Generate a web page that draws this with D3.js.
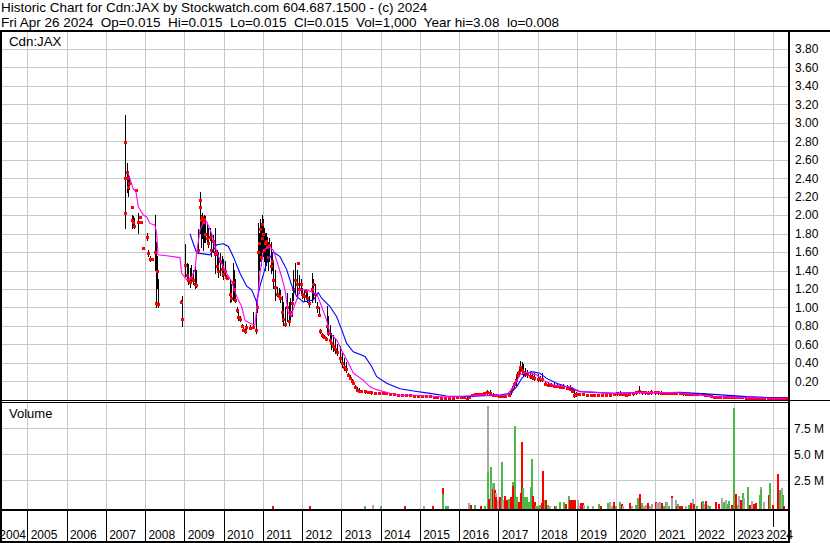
<!DOCTYPE html>
<html><head><meta charset="utf-8">
<script src="https://cdn.jsdelivr.net/npm/d3@7"></script>
<style>
body{margin:0;background:#fff}
svg{display:block}
text{font-family:"Liberation Sans",Arial,sans-serif;fill:#000}
</style></head>
<body><svg id="c" width="830" height="543"></svg>
<script>
// ---------------- DATA ----------------
const headerLines = [
  "Historic Chart for Cdn:JAX by Stockwatch.com 604.687.1500 - (c) 2024",
  "Fri Apr 26 2024  Op=0.015  Hi=0.015  Lo=0.015  Cl=0.015  Vol=1,000  Year hi=3.08  lo=0.008"
];
const symbol = "Cdn:JAX";
const volumeTitle = "Volume";
const yearLabels = d3.range(2004, 2025);
const priceTicks = [0.2,0.4,0.6,0.8,1.0,1.2,1.4,1.6,1.8,2.0,2.2,2.4,2.6,2.8,3.0,3.2,3.4,3.6,3.8];
const volumeTicks = [2.5, 5.0, 7.5]; // millions

// [time (decimal year), high, low, close]
const priceBars = [
[2007.49,3.08,1.85,2.79],[2007.495,2.40,2.40,2.40],[2007.50,2.02,2.02,2.02],
[2007.53,2.56,2.30,2.47],[2007.55,2.50,2.25,2.40],[2007.57,2.45,2.20,2.30],[2007.60,2.42,2.28,2.35],
[2007.66,2.09,2.09,2.09],[2007.67,2.00,1.86,1.95],[2007.70,1.98,1.88,1.92],[2007.72,1.96,1.86,1.88],
[2007.78,2.27,2.27,2.27],[2007.83,2.02,1.80,1.92],[2007.87,1.98,1.98,1.98],[2007.90,1.92,1.92,1.92],
[2007.94,1.64,1.64,1.64],[2008.04,1.80,1.72,1.76],[2008.07,1.62,1.55,1.59],[2008.13,1.55,1.50,1.52],
[2008.17,1.52,1.52,1.52],[2008.25,2.00,1.40,1.60],[2008.27,1.70,1.00,1.05],[2008.30,1.55,1.20,1.40],
[2008.33,1.30,1.00,1.04],[2008.92,1.08,1.04,1.06],[2008.93,1.12,0.79,0.88],
[2009.02,1.68,1.33,1.46],[2009.06,1.48,1.30,1.35],[2009.10,1.46,1.25,1.30],[2009.14,1.42,1.22,1.28],
[2009.18,1.45,1.27,1.32],[2009.22,1.40,1.25,1.30],[2009.26,1.44,1.20,1.25],[2009.29,1.40,1.22,1.24],
[2009.35,1.84,1.58,1.62],[2009.40,2.25,1.80,2.09],[2009.41,2.20,2.00,2.16],[2009.43,2.00,1.65,1.95],
[2009.45,2.02,1.75,1.98],[2009.47,1.98,1.62,1.92],[2009.49,2.00,1.70,1.96],[2009.53,1.98,1.70,1.80],
[2009.57,1.90,1.68,1.75],[2009.61,1.85,1.65,1.70],[2009.65,1.85,1.72,1.76],[2009.69,1.80,1.55,1.62],
[2009.73,1.78,1.60,1.72],[2009.77,1.72,1.50,1.58],[2009.78,1.86,1.37,1.60],[2009.83,1.62,1.38,1.45],
[2009.87,1.60,1.32,1.40],[2009.91,1.58,1.35,1.50],[2009.95,1.55,1.33,1.42],[2009.99,1.52,1.30,1.36],
[2010.03,1.50,1.34,1.40],[2010.07,1.35,1.30,1.33],[2010.10,1.34,1.30,1.32],[2010.16,1.30,1.05,1.15],
[2010.19,1.25,1.06,1.10],[2010.23,1.48,1.08,1.28],[2010.27,1.40,1.10,1.20],[2010.30,1.30,1.05,1.08],
[2010.34,1.00,0.94,0.97],[2010.38,0.95,0.86,0.90],[2010.42,0.90,0.85,0.88],[2010.46,0.82,0.78,0.80],
[2010.50,0.80,0.74,0.76],[2010.54,0.76,0.72,0.74],[2010.58,0.82,0.76,0.79],[2010.68,0.80,0.76,0.78],
[2010.74,0.94,0.79,0.79],[2010.82,1.08,0.72,0.76],[2010.86,1.12,0.94,1.00],[2010.89,1.91,1.23,1.60],
[2010.91,1.80,1.40,1.70],[2010.93,1.95,1.50,1.85],[2010.95,1.90,1.45,1.55],[2010.97,1.98,1.60,1.75],
[2010.99,2.00,1.65,1.90],[2011.01,1.95,1.55,1.80],[2011.03,1.85,1.50,1.62],[2011.05,1.80,1.40,1.70],
[2011.08,1.80,1.45,1.72],[2011.11,1.76,1.50,1.65],[2011.14,1.70,1.40,1.55],[2011.17,1.75,1.50,1.68],
[2011.20,1.70,1.37,1.45],[2011.24,1.60,1.40,1.50],[2011.27,1.51,1.20,1.30],[2011.30,1.40,1.08,1.22],
[2011.36,1.22,1.12,1.15],[2011.41,1.20,1.10,1.12],[2011.45,1.18,1.05,1.10],[2011.49,1.12,0.85,0.95],
[2011.52,1.05,0.80,0.88],[2011.56,1.00,0.79,0.82],[2011.62,1.15,0.85,1.00],[2011.66,1.05,0.80,0.85],
[2011.70,1.10,0.85,0.95],[2011.74,1.15,0.90,1.05],[2011.78,1.40,1.08,1.20],[2011.82,1.48,1.15,1.30],
[2011.86,1.40,1.10,1.25],[2011.90,1.48,1.48,1.48],[2011.93,1.35,1.15,1.20],[2011.97,1.30,1.15,1.25],
[2012.01,1.20,1.10,1.15],[2012.05,1.18,1.08,1.12],[2012.09,1.19,1.12,1.18],[2012.13,1.15,1.05,1.10],
[2012.17,1.12,1.00,1.05],[2012.25,1.37,1.05,1.20],[2012.28,1.30,1.10,1.25],[2012.32,1.25,1.05,1.15],
[2012.38,1.05,0.95,1.00],[2012.42,1.00,0.90,0.92],[2012.47,0.76,0.72,0.74],[2012.51,0.72,0.68,0.70],
[2012.55,0.70,0.66,0.68],[2012.60,0.68,0.65,0.66],[2012.63,1.01,0.72,0.80],[2012.67,0.90,0.70,0.72],
[2012.71,0.80,0.62,0.65],[2012.75,0.72,0.55,0.62],[2012.80,0.70,0.52,0.58],[2012.85,0.66,0.50,0.55],
[2012.90,0.60,0.48,0.52],[2012.97,0.58,0.40,0.45],[2013.01,0.50,0.35,0.40],[2013.06,0.45,0.32,0.36],
[2013.11,0.40,0.30,0.33],[2013.16,0.29,0.25,0.27],[2013.21,0.26,0.22,0.24],[2013.26,0.22,0.18,0.20],
[2013.31,0.20,0.17,0.18],[2013.36,0.16,0.12,0.14],[2013.41,0.13,0.10,0.11],[2013.46,0.12,0.08,0.10],
[2013.51,0.10,0.08,0.09],[2013.60,0.10,0.07,0.09],[2013.68,0.09,0.07,0.08],[2013.76,0.09,0.06,0.08],
[2013.85,0.08,0.06,0.07],[2013.95,0.08,0.06,0.07],
[2014.05,0.09,0.06,0.07],[2014.15,0.08,0.06,0.07],[2014.25,0.07,0.05,0.06],[2014.35,0.07,0.05,0.06],
[2014.45,0.06,0.05,0.05],[2014.55,0.06,0.04,0.05],[2014.65,0.06,0.04,0.05],[2014.75,0.05,0.04,0.05],
[2014.85,0.05,0.04,0.04],[2014.95,0.05,0.04,0.04],[2015.05,0.05,0.03,0.04],[2015.15,0.05,0.03,0.04],
[2015.25,0.04,0.03,0.04],[2015.35,0.04,0.03,0.03],[2015.45,0.03,0.02,0.03],[2015.55,0.03,0.02,0.02],
[2015.65,0.03,0.01,0.02],[2015.75,0.03,0.01,0.02],[2015.85,0.03,0.02,0.02],[2015.95,0.03,0.02,0.03],
[2016.05,0.04,0.03,0.03],[2016.12,0.04,0.02,0.03],[2016.20,0.02,0.01,0.01],[2016.26,0.04,0.02,0.03],
[2016.32,0.06,0.04,0.05],[2016.40,0.07,0.05,0.06],[2016.48,0.06,0.05,0.06],[2016.56,0.07,0.05,0.06],
[2016.64,0.08,0.05,0.07],[2016.72,0.10,0.06,0.08],[2016.78,0.10,0.06,0.07],[2016.86,0.07,0.04,0.05],
[2016.94,0.06,0.04,0.05],[2017.02,0.05,0.03,0.04],[2017.10,0.05,0.03,0.04],[2017.18,0.05,0.03,0.04],
[2017.26,0.06,0.04,0.05],[2017.32,0.10,0.06,0.09],[2017.36,0.14,0.09,0.12],[2017.40,0.19,0.12,0.17],
[2017.44,0.24,0.16,0.21],[2017.48,0.30,0.22,0.27],[2017.52,0.36,0.25,0.30],[2017.56,0.41,0.28,0.35],
[2017.60,0.40,0.27,0.32],[2017.64,0.38,0.26,0.30],[2017.68,0.34,0.25,0.28],[2017.74,0.32,0.24,0.28],
[2017.80,0.30,0.23,0.26],[2017.86,0.28,0.22,0.25],[2017.92,0.28,0.21,0.24],[2018.00,0.27,0.20,0.23],
[2018.06,0.25,0.20,0.22],[2018.12,0.29,0.20,0.22],[2018.18,0.20,0.15,0.17],[2018.26,0.19,0.14,0.16],
[2018.34,0.18,0.14,0.16],[2018.42,0.18,0.13,0.15],[2018.50,0.17,0.13,0.15],[2018.58,0.17,0.13,0.14],
[2018.66,0.17,0.12,0.14],[2018.74,0.16,0.12,0.13],[2018.82,0.15,0.10,0.12],[2018.88,0.13,0.08,0.10],
[2018.93,0.10,0.03,0.05],[2018.98,0.08,0.04,0.06],[2019.05,0.07,0.05,0.06],[2019.15,0.07,0.05,0.06],
[2019.25,0.06,0.04,0.05],[2019.35,0.06,0.04,0.05],[2019.45,0.06,0.04,0.05],[2019.55,0.06,0.04,0.05],
[2019.65,0.06,0.04,0.05],[2019.75,0.06,0.04,0.05],[2019.85,0.06,0.04,0.05],[2019.95,0.07,0.05,0.06],
[2020.03,0.08,0.05,0.07],[2020.10,0.09,0.05,0.06],[2020.18,0.07,0.05,0.06],[2020.26,0.07,0.04,0.05],
[2020.34,0.07,0.05,0.06],[2020.42,0.08,0.05,0.07],[2020.50,0.09,0.06,0.08],[2020.58,0.14,0.07,0.09],
[2020.66,0.09,0.06,0.08],[2020.74,0.09,0.06,0.08],[2020.82,0.09,0.06,0.07],[2020.90,0.10,0.06,0.08],
[2020.98,0.09,0.06,0.08],[2021.06,0.09,0.06,0.08],[2021.14,0.09,0.06,0.07],[2021.22,0.08,0.06,0.07],
[2021.30,0.08,0.06,0.07],[2021.38,0.08,0.06,0.07],[2021.46,0.08,0.06,0.07],[2021.54,0.08,0.06,0.07],
[2021.62,0.08,0.06,0.07],[2021.70,0.08,0.05,0.07],[2021.78,0.07,0.05,0.06],[2021.86,0.07,0.05,0.06],
[2021.94,0.07,0.05,0.06],[2022.02,0.07,0.05,0.06],[2022.10,0.07,0.05,0.06],[2022.18,0.07,0.05,0.06],
[2022.26,0.07,0.04,0.05],[2022.34,0.06,0.04,0.05],[2022.42,0.05,0.03,0.04],[2022.50,0.04,0.02,0.03],
[2022.58,0.04,0.02,0.03],[2022.66,0.04,0.02,0.03],[2022.74,0.04,0.02,0.03],[2022.82,0.04,0.02,0.03],
[2022.90,0.04,0.02,0.03],[2022.98,0.05,0.02,0.03],[2023.06,0.04,0.02,0.03],[2023.14,0.04,0.02,0.03],
[2023.22,0.04,0.02,0.03],[2023.30,0.03,0.02,0.02],[2023.38,0.03,0.02,0.02],[2023.46,0.03,0.02,0.02],
[2023.54,0.03,0.015,0.02],[2023.62,0.03,0.015,0.02],[2023.70,0.03,0.015,0.02],[2023.78,0.025,0.015,0.02],
[2023.86,0.025,0.01,0.02],[2023.94,0.025,0.01,0.015],[2024.02,0.02,0.01,0.015],[2024.10,0.02,0.01,0.015],
[2024.18,0.02,0.01,0.015],[2024.26,0.02,0.01,0.015],[2024.32,0.015,0.015,0.015]
];

// short moving average (magenta) [time, value]
const maShort = [
[2007.574,2.45],[2007.701,2.28],[2007.769,2.25],[2007.829,2.09],[2007.956,2.00],[2008.041,1.98],
[2008.126,1.91],[2008.253,1.89],[2008.296,1.80],[2008.330,1.57],[2008.551,1.56],[2008.890,1.54],
[2008.933,1.37],[2009.060,1.30],[2009.188,1.33],[2009.272,1.41],[2009.315,1.59],[2009.400,1.84],
[2009.485,1.91],[2009.570,1.93],[2009.697,1.80],[2009.782,1.66],[2009.909,1.51],[2010.079,1.37],
[2010.206,1.28],[2010.334,1.12],[2010.461,1.01],[2010.546,0.86],[2010.674,0.83],[2010.801,0.81],
[2010.860,1.05],[2010.928,1.37],[2011.013,1.62],[2011.141,1.66],[2011.268,1.62],[2011.353,1.51],
[2011.480,1.33],[2011.565,1.19],[2011.650,0.94],[2011.735,0.90],[2011.778,0.99],[2011.862,1.08],
[2011.947,1.19],[2012.117,1.19],[2012.287,1.16],[2012.372,1.15],[2012.500,1.01],[2012.627,0.86],
[2012.712,0.72],[2012.882,0.65],[2013.052,0.50],[2013.179,0.40],[2013.306,0.29],[2013.561,0.21],
[2013.731,0.14],[2013.901,0.11],[2014.241,0.07],[2014.495,0.05],[2014.835,0.05],[2015.685,0.03],
[2016.534,0.05],[2017.213,0.05],[2017.383,0.14],[2017.553,0.27],[2017.723,0.30],[2017.978,0.27],
[2018.147,0.21],[2018.402,0.16],[2018.827,0.14],[2019.082,0.09],[2019.931,0.07],[2020.780,0.08],
[2021.629,0.077],[2022.479,0.034],[2024.32,0.012]
];

// long moving average (blue) [time, value]
const maLong = [
[2009.145,1.80],[2009.230,1.69],[2009.315,1.59],[2009.485,1.58],[2009.655,1.57],[2009.740,1.62],
[2009.824,1.68],[2009.994,1.69],[2010.122,1.66],[2010.249,1.55],[2010.419,1.37],[2010.589,1.23],
[2010.716,1.19],[2010.843,1.06],[2010.928,1.23],[2011.098,1.48],[2011.268,1.60],[2011.438,1.55],
[2011.608,1.41],[2011.735,1.24],[2011.862,1.12],[2012.032,1.06],[2012.287,1.08],[2012.414,1.16],
[2012.500,1.10],[2012.712,1.01],[2012.882,0.90],[2013.009,0.76],[2013.137,0.61],[2013.306,0.52],
[2013.604,0.47],[2013.773,0.36],[2013.901,0.25],[2014.156,0.18],[2014.495,0.12],[2014.835,0.095],
[2015.260,0.07],[2015.685,0.041],[2016.109,0.034],[2016.534,0.041],[2017.043,0.052],[2017.298,0.07],
[2017.468,0.14],[2017.595,0.23],[2017.723,0.287],[2017.850,0.305],[2018.062,0.287],[2018.232,0.232],
[2018.487,0.178],[2018.742,0.142],[2019.082,0.088],[2019.931,0.07],[2020.610,0.081],[2021.205,0.077],
[2021.629,0.081],[2022.054,0.07],[2022.479,0.059],[2023.328,0.034],[2024.32,0.016]
];

// [time, volume (millions), direction u=up d=down f=unchanged]
const volume = [
[2011.25,0.04,"d"],[2012.20,0.06,"d"],[2013.60,0.05,"u"],[2013.80,0.08,"f"],[2014.00,0.04,"u"],
[2014.62,0.03,"d"],[2015.11,0.01,"f"],[2015.34,0.05,"d"],[2015.58,1.76,"d"],[2015.60,1.18,"u"],
[2015.67,0.03,"u"],[2015.73,0.02,"u"],[2016.26,0.29,"f"],[2016.31,0.12,"d"],[2016.41,0.09,"u"],
[2016.55,0.06,"d"],[2016.67,0.02,"u"],[2016.73,9.64,"f"],[2016.74,3.33,"u"],[2016.76,0.73,"d"],
[2016.81,3.81,"u"],[2016.84,2.27,"f"],[2016.87,1.63,"d"],[2016.88,2.27,"u"],[2016.92,1.57,"d"],
[2016.94,1.25,"f"],[2016.95,0.93,"d"],[2016.98,0.61,"f"],[2017.05,0.93,"d"],[2017.09,4.29,"u"],
[2017.12,0.29,"d"],[2017.13,0.60,"f"],[2017.17,1.00,"d"],[2017.22,0.22,"u"],[2017.23,0.60,"d"],
[2017.26,0.70,"u"],[2017.33,0.93,"d"],[2017.37,2.36,"u"],[2017.38,1.95,"d"],[2017.43,7.72,"u"],
[2017.48,0.86,"u"],[2017.54,0.38,"d"],[2017.58,1.31,"d"],[2017.60,6.15,"d"],[2017.63,1.76,"u"],
[2017.68,0.29,"d"],[2017.69,0.93,"u"],[2017.72,0.86,"u"],[2017.78,0.29,"d"],[2017.79,0.44,"u"],
[2017.83,1.82,"u"],[2017.86,4.52,"u"],[2017.89,1.00,"d"],[2017.94,0.44,"d"],[2017.95,0.03,"u"],
[2018.00,0.05,"u"],[2018.07,0.12,"u"],[2018.12,0.29,"d"],[2018.14,3.39,"d"],[2018.19,0.60,"u"],
[2018.22,0.60,"d"],[2018.26,0.09,"u"],[2018.31,0.05,"d"],[2018.32,0.05,"f"],[2018.45,0.05,"d"],
[2018.46,0.02,"u"],[2018.56,0.05,"u"],[2018.58,0.41,"u"],[2018.68,0.44,"u"],[2018.72,0.19,"d"],
[2018.79,1.00,"u"],[2018.83,0.60,"d"],[2018.87,0.60,"d"],[2018.92,0.60,"d"],[2018.95,0.60,"d"],
[2019.02,0.60,"f"],[2019.07,0.05,"f"],[2019.11,0.29,"d"],[2019.16,0.35,"d"],[2019.19,0.09,"f"],
[2019.29,0.03,"u"],[2019.42,0.03,"f"],[2019.57,0.25,"u"],[2019.62,0.05,"d"],[2019.79,0.29,"u"],
[2019.84,0.41,"f"],[2019.89,0.05,"f"],[2019.96,0.41,"d"],[2019.99,0.05,"u"],[2020.11,0.41,"u"],
[2020.14,0.22,"d"],[2020.18,0.03,"f"],[2020.36,0.29,"d"],[2020.41,0.03,"f"],[2020.50,0.12,"u"],
[2020.57,0.80,"u"],[2020.61,1.18,"d"],[2020.65,0.29,"u"],[2020.70,0.05,"f"],[2020.76,0.12,"f"],
[2020.81,0.29,"d"],[2020.86,0.05,"f"],[2020.91,0.22,"f"],[2021.01,0.41,"d"],[2021.04,0.29,"f"],
[2021.09,0.41,"f"],[2021.13,0.41,"f"],[2021.18,0.32,"d"],[2021.21,0.05,"u"],[2021.26,0.41,"u"],
[2021.31,0.41,"f"],[2021.34,0.05,"u"],[2021.42,1.00,"d"],[2021.43,0.80,"f"],[2021.52,0.60,"f"],
[2021.55,0.05,"d"],[2021.59,0.22,"u"],[2021.64,0.03,"d"],[2021.69,0.05,"d"],[2021.77,0.05,"f"],
[2021.85,0.12,"u"],[2021.90,0.35,"d"],[2021.95,0.73,"f"],[2021.99,0.19,"d"],[2022.05,0.03,"u"],
[2022.18,0.41,"d"],[2022.22,0.51,"u"],[2022.27,0.19,"f"],[2022.30,0.51,"d"],[2022.35,0.09,"f"],
[2022.39,0.03,"u"],[2022.54,0.44,"d"],[2022.62,0.22,"d"],[2022.69,0.80,"f"],[2022.74,0.44,"u"],
[2022.79,0.60,"f"],[2022.84,0.22,"u"],[2022.89,0.51,"u"],[2022.96,0.12,"d"],[2023.01,9.45,"u"],
[2023.05,1.18,"d"],[2023.10,0.12,"u"],[2023.14,1.00,"f"],[2023.18,0.60,"d"],[2023.23,1.28,"u"],
[2023.27,0.80,"f"],[2023.35,1.86,"u"],[2023.40,0.12,"d"],[2023.46,0.51,"f"],[2023.52,0.22,"d"],
[2023.57,0.29,"d"],[2023.66,1.06,"u"],[2023.69,1.86,"f"],[2023.70,1.70,"u"],[2023.78,0.44,"f"],
[2023.89,1.06,"d"],[2023.93,2.24,"u"],[2024.00,0.09,"d"],[2024.12,3.14,"d"],[2024.17,1.60,"u"],
[2024.24,1.73,"f"],[2024.25,1.06,"u"],[2024.29,0.05,"d"]
];

// ---------------- DRAWING ----------------
const FONT = '"Liberation Sans", Arial, sans-serif';
const svg = d3.select('#c');
svg.append('rect').attr('width',830).attr('height',543).attr('fill','#fff');

const x = d3.scaleLinear().domain([2005, 2024]).range([27.3, 773.05]);
const yP = d3.scaleLinear().domain([0, 4]).range([399.8, 30.4]);
const yV = d3.scaleLinear().domain([0, 10]).range([506.3, 402.3]);
const volBase = yV(0) + 2.4;
const volColor = {u:'#4cb848', d:'#ff0000', f:'#a8a8a8'};
const GRID = '#c8c8c8';

// header
svg.selectAll('text.hdr').data(headerLines).join('text').attr('class','hdr')
  .attr('x',1).attr('y',(d,i)=> i===0 ? 11.5 : 27)
  .attr('font-size',13.5).style('white-space','pre').text(d=>d);

// grid
const grid = svg.append('g').attr('shape-rendering','crispEdges');
const gridYears = d3.range(2005, 2025);
grid.selectAll('line.vp').data(gridYears).join('line').attr('class','vp')
  .attr('x1',d=>Math.round(x(d))+0.5).attr('x2',d=>Math.round(x(d))+0.5)
  .attr('y1',32).attr('y2',400).attr('stroke',GRID);
grid.selectAll('line.vv').data(gridYears).join('line').attr('class','vv')
  .attr('x1',d=>Math.round(x(d))+0.5).attr('x2',d=>Math.round(x(d))+0.5)
  .attr('y1',403).attr('y2',509).attr('stroke',GRID);
grid.selectAll('line.hp').data(priceTicks).join('line').attr('class','hp')
  .attr('x1',2).attr('x2',788).attr('y1',d=>Math.round(yP(d))+0.5).attr('y2',d=>Math.round(yP(d))+0.5)
  .attr('stroke',GRID);
grid.selectAll('line.hv').data(volumeTicks).join('line').attr('class','hv')
  .attr('x1',2).attr('x2',788).attr('y1',d=>Math.round(yV(d))+0.5).attr('y2',d=>Math.round(yV(d))+0.5)
  .attr('stroke',GRID);

// panel titles
svg.append('text').attr('x',9).attr('y',46).attr('font-size',13.3).text(symbol);
svg.append('text').attr('x',9).attr('y',418).attr('font-size',13).text(volumeTitle);

// price panel
svg.append('clipPath').attr('id','pclip').append('rect').attr('x',2).attr('y',32).attr('width',786).attr('height',368);
const pg = svg.append('g').attr('clip-path','url(#pclip)');
pg.append('g').attr('shape-rendering','crispEdges').selectAll('line').data(priceBars).join('line')
  .attr('x1',d=>Math.round(x(d[0]))+0.5).attr('x2',d=>Math.round(x(d[0]))+0.5)
  .attr('y1',d=>yP(d[1])-0.5).attr('y2',d=>yP(d[2])+0.5)
  .attr('stroke','#000').attr('stroke-width',1);
pg.append('g').attr('shape-rendering','crispEdges').selectAll('rect').data(priceBars).join('rect')
  .attr('x',d=>Math.round(x(d[0]))-1).attr('y',d=>Math.round(yP(d[3]))-1.5)
  .attr('width',3).attr('height',3).attr('fill','#ff0000');
const line = d3.line().x(d=>x(d[0])).y(d=>yP(d[1]));
pg.append('path').datum(maLong).attr('d',line).attr('fill','none').attr('stroke','#0000ff').attr('stroke-width',1.1);
pg.append('path').datum(maShort).attr('d',line).attr('fill','none').attr('stroke','#ff00ff').attr('stroke-width',1.1);

// volume panel
svg.append('g').attr('shape-rendering','crispEdges').selectAll('rect').data(volume).join('rect')
  .attr('x',d=>Math.round(x(d[0]))-1).attr('width',2)
  .attr('y',d=>yV(d[1])).attr('height',d=>volBase - yV(d[1]))
  .attr('fill',d=>volColor[d[2]]);

// right axes
const gP = svg.append('g').attr('transform','translate(791,0)')
  .call(d3.axisRight(yP).tickValues(priceTicks).tickSize(0).tickPadding(4).tickFormat(d3.format('.2f')));
gP.select('.domain').remove();
gP.attr('font-size',12).attr('font-family',FONT);
gP.selectAll('text').attr('fill','#000');
const gV = svg.append('g').attr('transform','translate(791,0)')
  .call(d3.axisRight(yV).tickValues(volumeTicks).tickSize(0).tickPadding(3).tickFormat(d=>d.toFixed(1)+' M'));
gV.select('.domain').remove();
gV.attr('font-size',12).attr('font-family',FONT);
gV.selectAll('text').attr('fill','#000');

// x axis row: separators then labels (with white backgrounds)
const xa = svg.append('g');
xa.append('g').attr('shape-rendering','crispEdges').selectAll('line').data(gridYears).join('line')
  .attr('x1',d=>Math.round(x(d))+0.5).attr('x2',d=>Math.round(x(d))+0.5)
  .attr('y1',510).attr('y2',541).attr('stroke','#000');
const lg = xa.append('g');
const labs = yearLabels.map(yr=>{
  const t = lg.append('text').attr('font-size',12).attr('y',539).text(String(yr));
  const w = t.node().getComputedTextLength();
  const lx = Math.max(-0.7, Math.min(x(yr)+3.4, 793 - w));
  t.attr('x', lx);
  return {t, lx, w};
});
labs.forEach(l=>{
  lg.insert('rect','text').attr('x',l.lx-1).attr('y',527).attr('width',l.w+2).attr('height',13).attr('fill','#fff');
});

// frame
const fr = svg.append('g').attr('shape-rendering','crispEdges').attr('fill','#000');
fr.append('rect').attr('x',0).attr('y',30).attr('width',830).attr('height',2);
fr.append('rect').attr('x',0).attr('y',30).attr('width',2).attr('height',513);
fr.append('rect').attr('x',788).attr('y',30).attr('width',2).attr('height',513);
fr.append('rect').attr('x',0).attr('y',400).attr('width',830).attr('height',1);
fr.append('rect').attr('x',0).attr('y',402).attr('width',790).attr('height',1);
fr.append('rect').attr('x',0).attr('y',509).attr('width',790).attr('height',2);
fr.append('rect').attr('x',0).attr('y',541).attr('width',790).attr('height',2);
</script></body></html>
